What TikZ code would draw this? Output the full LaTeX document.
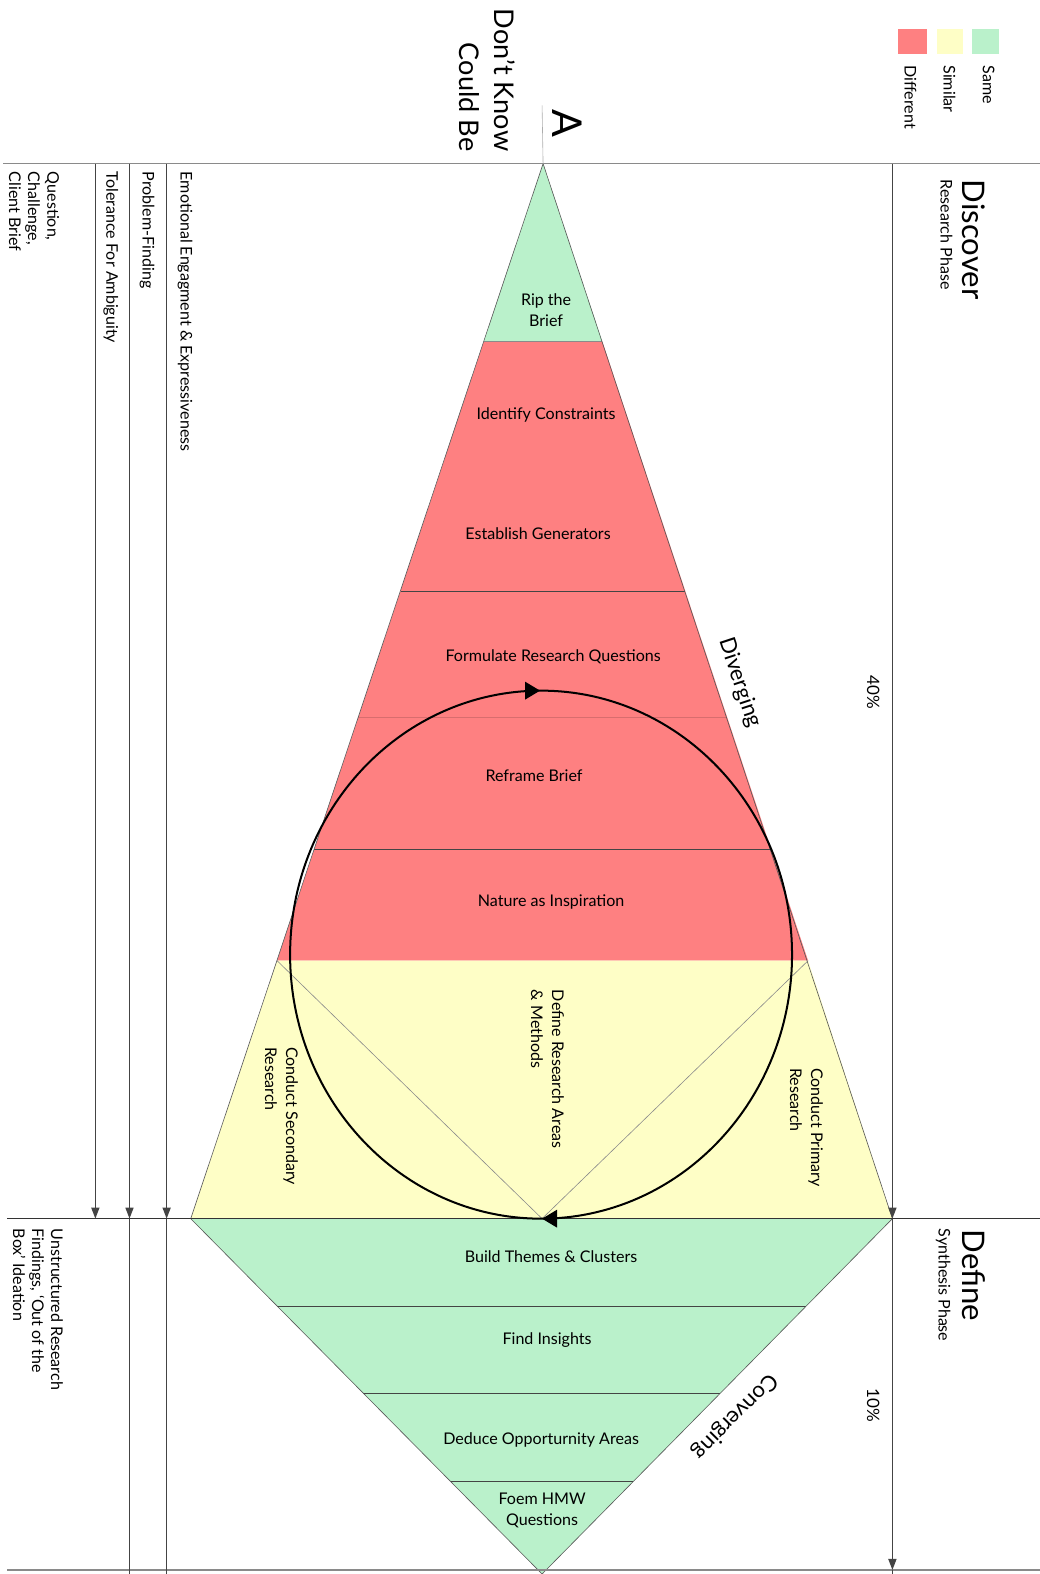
\documentclass[tikz,border=0pt]{standalone}
\usepackage{fontspec}
\setmainfont{Lato}
\usetikzlibrary{arrows.meta}
\definecolor{cred}{HTML}{FE8081}
\definecolor{cyel}{HTML}{FEFEC6}
\definecolor{cgrn}{HTML}{BAF1CB}
\definecolor{vgray}{HTML}{444444}
\definecolor{tgray}{HTML}{8A8A8A}
\begin{document}
\begin{tikzpicture}[x=1pt,y=-1pt,
  lbl/.style={font=\fontsize{16}{21}\selectfont, inner sep=0, align=center},
  rlbl/.style={lbl, rotate=-90, anchor=north west, align=left},
  sidelbl/.style={rlbl, font=\fontsize{16}{19}\selectfont},
  vline/.style={draw=vgray, line width=1.5pt},
  arr/.style={-{Triangle[length=11pt,width=8pt]}},
  edge/.style={draw=vgray!90, line width=0.6pt},
  sep/.style={draw=vgray, line width=0.7pt},
  diag/.style={draw=tgray, line width=0.6pt}]
\useasboundingbox (0,0) rectangle (1036,1568);
% key points
\coordinate (apex) at (541,163);
\coordinate (L1) at (482,340); \coordinate (R1) at (600,340);
\coordinate (L2) at (399,589); \coordinate (R2) at (682,589);
\coordinate (L3) at (357,715); \coordinate (R3) at (724,715);
\coordinate (L4) at (313,846); \coordinate (R4) at (767,846);
\coordinate (L5) at (276,957); \coordinate (R5) at (805,957);
\coordinate (L6) at (190,1214); \coordinate (R6) at (889,1214);
\coordinate (mid) at (540,1214);
\coordinate (BL1) at (276,1301); \coordinate (BR1) at (803,1301);
\coordinate (BL2) at (362,1388); \coordinate (BR2) at (717,1388);
\coordinate (BL3) at (449,1476); \coordinate (BR3) at (631,1476);
\coordinate (bapex) at (540,1568);
% fills
\fill[cgrn] (apex) -- (R1) -- (L1) -- cycle;
\fill[cred] (L1) -- (R1) -- (R5) -- (L5) -- cycle;
\fill[cyel] (L5) -- (R5) -- (R6) -- (L6) -- cycle;
\fill[cgrn] (L6) -- (R6) -- (bapex) -- cycle;
% separators
\draw[sep, draw=tgray] (L1) -- (R1);
\draw[sep] (L2) -- (R2);
\draw[draw=cred!85!black, line width=0.5pt] (L3) -- (R3);
\draw[sep] (L4) -- (R4);
\draw[sep] (BL1) -- (BR1);
\draw[sep] (BL2) -- (BR2);
\draw[sep] (BL3) -- (BR3);
\draw[diag] (L5) -- (mid) -- (R5);
% outlines
\draw[edge] (L6) -- (apex) -- (R6);
\draw[edge] (L6) -- (bapex) -- (R6);
% horizontal lines
\coordinate (tl) at (3,163); \coordinate (tr) at (1036,163);
\coordinate (ml) at (7,1214); \coordinate (mr) at (1036,1214);
\coordinate (bl) at (7,1564); \coordinate (br) at (1036,1564);
\draw[draw=tgray, line width=1.4pt] (tl) -- (tr);
\draw[draw=black!80, line width=1.4pt] (ml) -- (mr);
\draw[draw=tgray, line width=1.4pt] (bl) -- (br);
\coordinate (ct) at (540,105);
\draw[draw=tgray!70, line width=0.6pt] (ct) -- (apex);
% vertical lines
\coordinate (v1t) at (95,163); \coordinate (v1b) at (95,1214);
\coordinate (v2t) at (129,163); \coordinate (v2m) at (129,1214); \coordinate (v2b) at (129,1568);
\coordinate (v3t) at (166,163); \coordinate (v3m) at (166,1214); \coordinate (v3b) at (166,1568);
\coordinate (v4t) at (889,163); \coordinate (v4m) at (889,1214); \coordinate (v4b) at (889,1564); \coordinate (v4e) at (889,1568);
\draw[vline, arr] (v1t) -- (v1b);
\draw[vline, arr] (v2t) -- (v2m);
\draw[vline] (v2m) -- (v2b);
\draw[vline, arr] (v3t) -- (v3m);
\draw[vline] (v3m) -- (v3b);
\draw[vline, arr] (v4t) -- (v4m);
\draw[vline, arr] (v4m) -- (v4b);
\draw[vline] (v4b) -- (v4e);
% cycle
\draw[line width=2pt] (539,951) ellipse [x radius=250pt, y radius=263pt];
\fill (538,688) -- (523,679) -- (523,697) -- cycle;
\fill (540,1214) -- (555,1205) -- (555,1223) -- cycle;
% legend
\fill[cred] (895,29) rectangle (923,54);
\fill[cyel] (933,29) rectangle (959,54);
\fill[cgrn] (968,29) rectangle (995,54);
\node[rlbl, font=\fontsize{16}{18}\selectfont] (lsame) at (991,65) {Same};
\node[rlbl, font=\fontsize{16}{18}\selectfont] (lsim) at (952,65) {Similar};
\node[rlbl, font=\fontsize{16}{18}\selectfont] (ldiff) at (913,65) {Different};
% top
\node[lbl, rotate=-90, font=\fontsize{41}{44}\selectfont] (A) at (565,123) {A};
\node[lbl, rotate=-90, anchor=north east, align=right, font=\fontsize{27}{34}\selectfont] (dk) at (513,151) {Don’t Know\\Could Be};
% left labels
\node[sidelbl] (q) at (59,171) {Question,\\Challenge,\\Client Brief};
\node[sidelbl] (tol) at (118,171) {Tolerance For Ambiguity};
\node[sidelbl] (pf) at (154,171) {Problem-Finding};
\node[sidelbl] (emo) at (192,171) {Emotional Engagment \& Expressiveness};
\node[sidelbl] (uns) at (63,1224) {Unstructured Research\\Findings, ‘Out of the\\Box’ Ideation};
% right labels
\node[rlbl, font=\fontsize{31}{34}\selectfont] (disc) at (982,179) {Discover};
\node[rlbl, font=\fontsize{16}{18}\selectfont] (rp) at (949,179) {Research Phase};
\node[rlbl, font=\fontsize{31}{34}\selectfont] (def) at (982,1225) {Define};
\node[rlbl, font=\fontsize{16}{18}\selectfont] (sp) at (947,1224) {Synthesis Phase};
\node[lbl, rotate=-90, font=\fontsize{17}{19}\selectfont] (p40) at (870,690) {40\%};
\node[lbl, rotate=-90, font=\fontsize{17}{19}\selectfont] (p10) at (870,1400) {10\%};
% triangle labels
\node[lbl] (rip) at (544,309) {Rip the\\Brief};
\node[lbl] (idc) at (544,413) {Identify Constraints};
\node[lbl] (est) at (536,532) {Establish Generators};
\node[lbl] (frq) at (551,654) {Formulate Research Questions};
\node[lbl] (rfb) at (532,773) {Reframe Brief};
\node[lbl] (nai) at (549,899) {Nature as Inspiration};
\node[rlbl] (csr) at (297,1043) {Conduct Secondary\\Research};
\node[rlbl] (dra) at (562,986) {Define Research Areas\\\& Methods};
\node[rlbl] (cpr) at (820,1064) {Conduct Primary\\Research};
\node[lbl] (btc) at (549,1252) {Build Themes \& Clusters};
\node[lbl] (fin) at (545,1335) {Find Insights};
\node[lbl] (doa) at (539,1434) {Deduce Opporturnity Areas};
\node[lbl] (hmw) at (540,1505) {Foem HMW\\Questions};
\node[lbl, font=\fontsize{22}{24}\selectfont, rotate=-71.7] (div) at (737,680) {Diverging};
\node[lbl, font=\fontsize{22}{24}\selectfont, rotate=-134.6] (conv) at (732,1411) {Converging};
\end{tikzpicture}
\end{document}
